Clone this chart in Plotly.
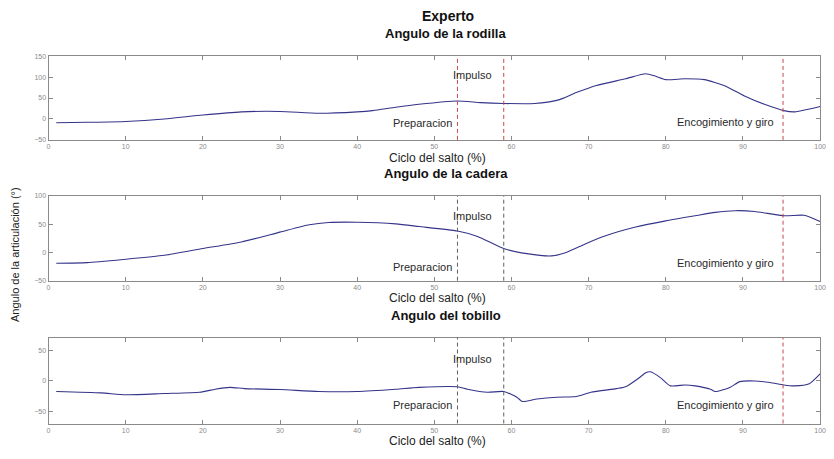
import plotly.graph_objects as go

# Ciclo del salto (%) y ángulos articulares del experto (grados)
x_rodilla = [1, 5, 10, 15, 20, 25, 30, 35, 40, 42, 45, 48, 53, 56, 59, 63, 66, 68.4, 71, 74.8,
             77.4, 78.7, 80, 82.5, 85, 87.7, 90.2, 92.8, 95.3, 96.7, 98.6, 100]
rodilla = [-9, -8, -6, 0, 9.5, 17, 18, 13.5, 17, 20, 28, 35, 43, 39, 37, 37, 45, 63, 80, 96,
           108, 102, 94, 96, 94, 79, 55, 35, 20, 17, 24, 30]

x_cadera = [1, 5, 10, 15, 20, 25, 30, 33.8, 36.3, 40, 45, 48, 53, 55.6, 59, 62, 65.2, 67.1,
            69.7, 72.3, 76.1, 80, 83.8, 86.4, 89, 91.5, 95.4, 97.9, 100]
cadera = [-19, -18, -12, -5, 7, 18.6, 36, 49, 53, 53.5, 50.6, 46, 38, 28.5, 7, -2, -6, 0,
          16, 30, 45, 56, 65, 71, 74, 72.7, 65, 66, 55]

x_tobillo = [1, 6.8, 10, 15, 19.6, 21.6, 23.5, 25.4, 30, 35, 40, 45, 48, 53, 54.3, 56.9, 59,
             60.7, 61.4, 63.3, 65.9, 68.4, 70.3, 73.6, 74.8, 76.7, 77.4, 78, 79.3, 80.6, 82.5,
             83.8, 85.8, 86.4, 88.3, 89.6, 91.5, 93.5, 95.3, 96.7, 98.6, 100]
tobillo = [-17.7, -20, -23, -21, -19, -14, -11, -13, -14.5, -17.7, -17.7, -14, -11, -10, -14,
           -19, -17.7, -27, -34, -30, -27, -26, -19, -13, -10, 6, 13, 14.5, 5, -8.5, -7,
           -8.5, -14, -17.7, -11, -1.6, -0.5, -3, -7, -8.5, -5, 11]

# Límites de fase del salto (%)
fases = [53, 59, 95.2]

titulos = ["Angulo de la rodilla", "Angulo de la cadera", "Angulo del tobillo"]
rangos_y = [[-50, 150], [-50, 100], [-70, 70]]
ticks_y = [[-50, 0, 50, 100, 150], [-50, 0, 50, 100], [-50, 0, 50]]
x_ticks = list(range(0, 101, 10))

# Posición vertical (en datos) de las etiquetas de fase en cada panel
y_impulso = [106, 65, 36]
y_preparacion = [-10, -25, -39]
y_encogimiento = [-8, -19, -39]

W, H = 834, 459
x0_px, x1_px = 47, 826
paneles_px = [(53, 138), (195, 281), (339, 426)]

FONT = "Liberation Sans, Arial, sans-serif"
LINEA = "#34348a"
ROJO = "#c9494b"
GRIS = "#606060"

fig = go.Figure()
series = [(x_rodilla, rodilla), (x_cadera, cadera), (x_tobillo, tobillo)]

layout = dict(
    width=W, height=H,
    margin=dict(l=0, r=0, t=0, b=0),
    paper_bgcolor="white", plot_bgcolor="white",
    showlegend=False,
    font=dict(family=FONT, color="#222"),
)

annotations = []
shapes = []
for i, ((xs, ys), (top, bot)) in enumerate(zip(series, paneles_px)):
    n = "" if i == 0 else str(i + 1)
    xa, ya = "x" + n, "y" + n
    fig.add_trace(go.Scatter(
        x=xs, y=ys, mode="lines", xaxis=xa, yaxis=ya,
        line=dict(color=LINEA, width=1.1, shape="spline", smoothing=0.6),
        hoverinfo="skip",
    ))
    eje = dict(
        showgrid=False, zeroline=False, showline=True,
        linecolor="#8a8a8a", linewidth=1, mirror="ticks",
        ticks="inside", ticklen=4, tickcolor="#8a8a8a",
        tickfont=dict(size=7, color="#8a8a8a", family=FONT),
    )
    layout["xaxis" + n] = dict(eje, domain=[x0_px / W, x1_px / W], range=[0, 100],
                               tickvals=x_ticks, anchor=ya)
    layout["yaxis" + n] = dict(eje, domain=[1 - bot / H, 1 - top / H], range=rangos_y[i],
                               tickvals=ticks_y[i], anchor=xa)

    # Líneas de fase discontinuas
    for j, f in enumerate(fases):
        color = ROJO if (j == 2 or i == 0) else GRIS
        shapes.append(dict(type="line", xref=xa, yref=ya + " domain", x0=f, x1=f, y0=0, y1=1,
                           line=dict(color=color, width=1, dash="4px,3px")))

    # Títulos de panel y del eje x
    annotations.append(dict(text="<b>" + titulos[i] + "</b>", xref="paper", yref="paper",
                            x=448 / W, y=1 - (top - 23) / H, showarrow=False,
                            font=dict(size=13, family=FONT, color="#111"),
                            xanchor="center", yanchor="middle"))
    annotations.append(dict(text="Ciclo del salto (%)", xref="paper", yref="paper",
                            x=440 / W, y=1 - (bot + 18) / H, showarrow=False,
                            font=dict(size=12, family=FONT, color="#222"),
                            xanchor="center", yanchor="middle"))

    # Etiquetas de fase
    lab = dict(showarrow=False, xref=xa, yref=ya, yanchor="middle",
               font=dict(size=11, family=FONT, color="#2a2a2a"))
    annotations.append(dict(lab, text="Impulso", x=52.2, y=y_impulso[i], xanchor="left"))
    annotations.append(dict(lab, text="Preparacion", x=52.6, y=y_preparacion[i], xanchor="right"))
    annotations.append(dict(lab, text="Encogimiento y giro", x=94.3, y=y_encogimiento[i],
                            xanchor="right"))

annotations.append(dict(text="<b>Experto</b>", xref="paper", yref="paper",
                        x=450 / W, y=1 - 12 / H, showarrow=False,
                        font=dict(size=14, family=FONT, color="#111"),
                        xanchor="center", yanchor="middle"))
annotations.append(dict(text="Angulo de la articulación (°)", xref="paper", yref="paper",
                        x=13 / W, y=1 - 254 / H, showarrow=False, textangle=-90,
                        font=dict(size=11, family=FONT, color="#222"),
                        xanchor="center", yanchor="middle"))

layout["annotations"] = annotations
layout["shapes"] = shapes
fig.update_layout(**layout)
fig.write_html("out.html")
